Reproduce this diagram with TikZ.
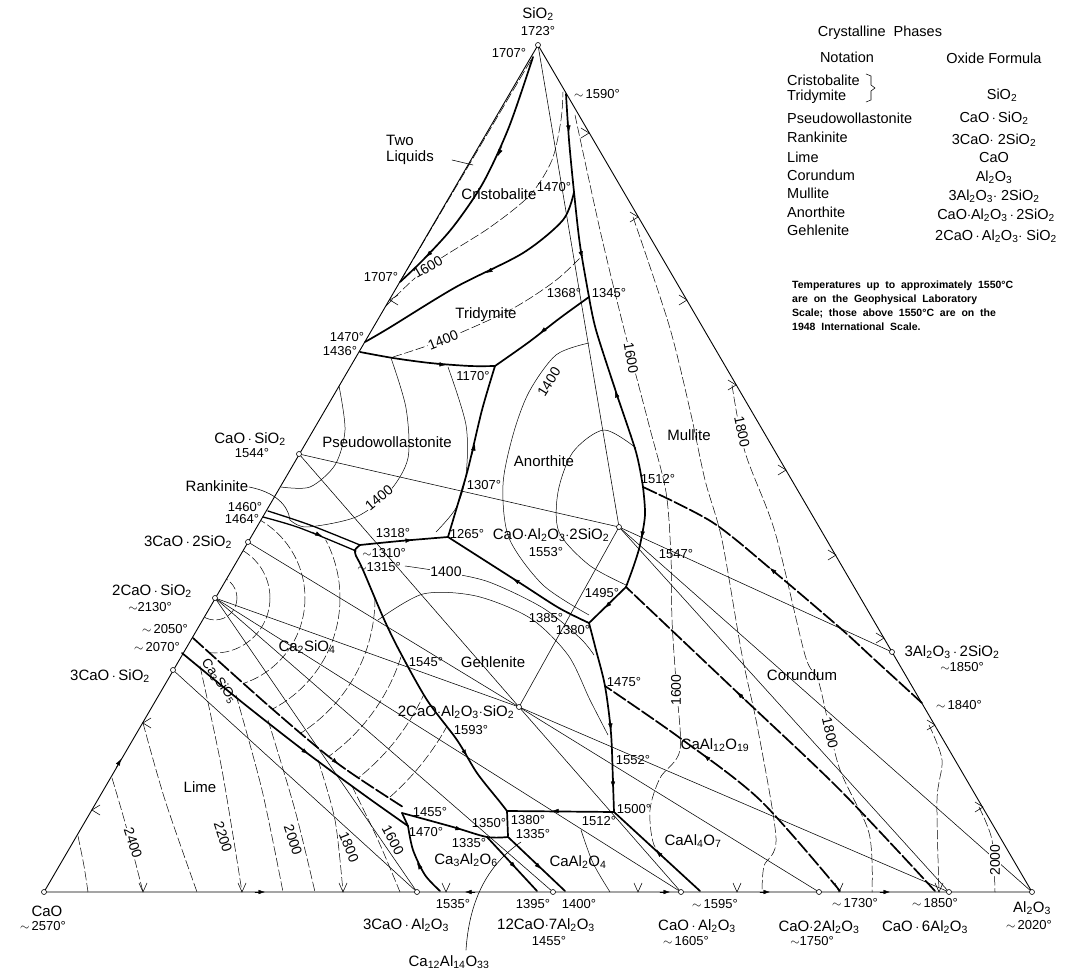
\documentclass[tikz,border=0pt]{standalone}
\usepackage{fontspec}
\setmainfont{Liberation Sans}
\usetikzlibrary{arrows.meta}
\newcommand{\sbs}[1]{\textsubscript{#1}}
\newcommand{\cdt}{\,$\cdot$\,}
\tikzset{
  rim/.style={line width=0.9pt},
  tie/.style={line width=0.55pt},
  bound/.style={line width=1.7pt},
  bounddash/.style={line width=1.7pt, dash pattern=on 14pt off 3pt},
  iso/.style={line width=0.5pt, dash pattern=on 9pt off 3pt},
  isofull/.style={line width=0.5pt},
  cpd/.style={circle, draw, fill=white, line width=0.6pt, inner sep=0pt, minimum size=5pt},
  fld/.style={font=\fontsize{15}{16}\selectfont, inner sep=1pt},
  tmp/.style={font=\fontsize{13}{14}\selectfont, inner sep=1pt},
  isolab/.style={font=\fontsize{14}{14}\selectfont, fill=white, inner sep=0.6pt},
  legend/.style={font=\fontsize{14.5}{15}\selectfont, anchor=west, inner sep=0pt},
  formula/.style={font=\fontsize{14.5}{15}\selectfont, inner sep=0pt},
  tip/.style={-{Latex[length=6.5pt,width=4.5pt]}, line width=0.4pt},
}
\newcommand{\vmark}[1]{\draw[tie] (#1-4,883) -- (#1,892) -- (#1+4,883);}
\newcommand{\rmark}[2]{\draw[tie] (#1-8,#2-5) -- (#1,#2) -- (#1-8,#2+5);}
\newcommand{\lmark}[2]{\draw[tie] (#1+8,#2-5) -- (#1,#2) -- (#1+8,#2+5);}
\newcommand{\arr}[2]{\draw[tip] (#1) -- (#2);}

\begin{document}
\begin{tikzpicture}[x=1pt, y=-1pt, line cap=round, line join=round]
\useasboundingbox (0,0) rectangle (1072,973);

% corners and compounds
\coordinate (S) at (538,45);
\coordinate (C) at (44,892);
\coordinate (A) at (1032,892);
\coordinate (CS) at (299,454);
\coordinate (C3S2) at (248,542);
\coordinate (C2S) at (215,598);
\coordinate (C3S) at (173,670);
\coordinate (C3A) at (417,892);
\coordinate (C12A7) at (553,892);
\coordinate (CA) at (681,892);
\coordinate (CA2) at (819,892);
\coordinate (CA6) at (949,892);
\coordinate (A3S2) at (892,652);
\coordinate (CAS2) at (619,527);
\coordinate (C2AS) at (519,707);

% triangle
\draw[rim] (S) -- (C) -- (A) -- cycle;

% joins
\foreach \p/\q in {S/CAS2, CS/CAS2, CS/C2AS, C3S2/C2AS, C2S/C2AS, C2S/CA, C2S/C12A7, C2S/C3A,
  C3S/C3A, C2AS/CAS2, C2AS/CA, C2AS/CA2, C2AS/CA6, CAS2/CA6, CAS2/A, CAS2/A3S2}
  \draw[tie] (\p) -- (\q);

% isotherms, lime field
\draw[iso] plot[smooth] coordinates {(78,836) (84,866) (88,892)};
\draw[iso] plot[smooth] coordinates {(112,778) (126,826) (143,892)};
\draw[iso] plot[smooth] coordinates {(143,723) (165,800) (197,892)};
\draw[iso] plot[smooth] coordinates {(200,666) (222,770) (242,892)};
\draw[iso] plot[smooth] coordinates {(236,695) (262,790) (283,892)};
\draw[iso] plot[smooth] coordinates {(268,720) (295,810) (315,892)};
\draw[iso] plot[smooth] coordinates {(318,760) (335,820) (343,892)};
\draw[iso] plot[smooth] coordinates {(352,786) (378,840) (400,892)};
\node[isolab, rotate=-72] (l2400) at (133,843) {2400};
\node[isolab, rotate=-72] (l2200) at (223,837) {2200};
\node[isolab, rotate=-72] (l2000) at (293,840) {2000};
\node[isolab, rotate=-68] (l1800a) at (349,847) {1800};
\foreach \x in {143,242,343,446,638,737,839,939} {\vmark{\x}}
\foreach \x/\y in {589/133, 638/217, 687/300, 736/385, 786/470, 836/555, 884/638, 935/725, 983/807} {\rmark{\x}{\y}}
\foreach \x/\y in {143/723, 92/810, 390/300} {\lmark{\x}{\y}}

% isotherms, Ca2SiO4 field
\begin{scope}
\clip (193,638) -- (263,517) -- (356,551) -- (383,617) -- (427,700) -- (457,740) -- (500,802)
  -- (507,811) -- (508,836) -- (487,837) -- (408,820) -- (403,807) -- (337,763) -- (270,707) -- cycle;
\foreach \r in {22,55,90,125,160,195,230,265}
  \draw[iso] (C2S) circle[radius=\r];
\end{scope}
\node[isolab, rotate=-62] (l1600a) at (393,840) {1600};

% isotherms, silica and wollastonite fields
\draw[iso] plot[smooth] coordinates {(386,306) (428,267) (489,228) (530,195) (552,160) (561,120) (563,92)};
\node[isolab, rotate=30] (l1600b) at (428,267) {1600};
\draw[iso] plot[smooth] coordinates {(393,357) (443,340) (510,310) (555,281) (583,255)};
\node[isolab, rotate=22] (l1400a) at (443,340) {1400};
\draw[isofull] plot[smooth] coordinates {(339,386) (345,430) (335,465) (310,487) (281,487)};
\draw[isofull] plot[smooth] coordinates {(391,358) (406,408) (408,458) (389,492) (356,517) (307,527) (290,520)};
\node[isolab, rotate=40] (l1400b) at (379,498) {1400};
\draw[isofull] plot[smooth] coordinates {(448,367) (466,425) (466,475) (456,508) (436,532)};

% isotherms, anorthite field
\draw[isofull] plot[smooth] coordinates {(589,343) (556,355) (529,392) (513,435) (503,485) (509,538) (543,585) (589,615)};
\node[isolab, rotate=58] (l1400c) at (549,382) {1400};
\draw[isofull] plot[smooth] coordinates {(636,448) (604,430) (573,452) (558,492) (559,532) (589,565) (626,585)};

% isotherms, gehlenite field
\draw[isofull] plot[smooth] coordinates {(405,566) (444,572) (489,582) (543,608) (580,638) (594,655)};
\node[isolab] (l1400d) at (446,572) {1400};
\draw[isofull] plot[smooth] coordinates {(378,620) (423,594) (476,596) (530,618) (568,655) (590,700) (608,735)};

% isotherms, mullite, corundum and aluminate fields
\draw[iso] plot[smooth] coordinates {(575,115) (600,230) (623,325) (649,425) (666,492) (671,558) (672,620) (676,683) (680,750) (660,778) (650,810) (654,845) (672,865)};
\node[isolab, rotate=-80] (l1600c) at (631,358) {1600};
\node[isolab, rotate=90] (l1600d) at (676,690) {1600};
\draw[iso] plot[smooth] coordinates {(633,217) (669,325) (690,410) (705,480) (722,540) (742,655) (758,730) (776,838) (764,866) (762,892)};
\draw[iso] plot[smooth] coordinates {(732,385) (745,452) (775,532) (805,655) (819,683) (839,767) (869,833) (872,892)};
\node[isolab, rotate=-78] (l1800b) at (742,432) {1800};
\node[isolab, rotate=-77] (l1800c) at (830,733) {1800};
\draw[iso] plot[smooth] coordinates {(929,725) (942,760) (937,800) (939,892)};
\draw[iso] plot[smooth] coordinates {(979,807) (992,840) (995,892)};
\node[isolab, rotate=90] (l2000b) at (995,860) {2000};
\draw[isofull] plot[smooth] coordinates {(581,830) (593,863) (610,892)};

% two-liquid region
\draw[tie, dash pattern=on 10pt off 3pt] (531,60) -- (401,280);
\draw[bound] plot[smooth] coordinates {(533,57) (509,127) (483,183) (453,227) (423,260) (400,282)};
\arr{502,146}{498,156} \arr{434,249}{426,257}

% boundary curves
\draw[bound] plot[smooth] coordinates {(574,192) (563,220) (523,253) (456,287) (389,328) (365,342)};
\arr{495,268}{486,273}
\draw[bound] plot[smooth] coordinates {(566,94) (569,140) (574,192) (580,245) (589,297)};
\arr{568,122}{569,132} \arr{580,248}{582,258}
\draw[bound] plot[smooth] coordinates {(360,352) (393,358) (430,363) (470,366) (495,366)};
\arr{436,364}{446,365}
\draw[bound] plot[smooth] coordinates {(589,297) (560,318) (529,342) (495,366)};
\arr{548,327}{540,333}
\draw[bound] plot[smooth] coordinates {(448,537) (462,490) (469,465) (482,410) (495,366)};
\arr{472,455}{475,444}
\draw[bound] plot[smooth] coordinates {(643,487) (636,452) (616,392) (596,330) (589,297)};
\arr{619,402}{615,391}
\draw[bound] plot[smooth] coordinates {(643,487) (645,515) (640,545) (634,565) (626,587)};
\arr{643,528}{642,538}
\draw[bound] (626,587) -- (589,623);
\arr{612,601}{605,608}
\draw[bound] plot[smooth] coordinates {(589,623) (559,608) (520,583) (448,537)};
\arr{522,584}{513,579}
\draw[bound] plot[smooth] coordinates {(589,623) (596,650) (605,686) (611,733) (613,783) (614,812)};
\arr{610,720}{611,730} \arr{613,778}{613,788}
\draw[bounddash] plot[smooth] coordinates {(922,703) (875,660) (839,627) (772,570) (712,522) (643,487)};
\arr{778,575}{770,568}
\draw[bounddash] plot[smooth] coordinates {(935,891) (840,790) (740,695) (626,587)};
\arr{745,700}{737,692}
\draw[bounddash] plot[smooth] coordinates {(840,891) (760,800) (680,738) (605,686)};
\arr{712,762}{704,755}
\draw[bound] (700,891) -- (614,812);
\arr{664,858}{656,851}
\draw[bound] (614,812) -- (507,811);
\arr{562,811}{552,811}
\draw[bound] (507,811) -- (508,836);
\draw[bound] plot[smooth] coordinates {(356,556) (363,570) (383,617) (399,650) (427,700) (457,740) (477,773) (500,802) (507,811)};
\arr{462,748}{467,756}
\draw[bound] plot[smooth] coordinates {(402,813) (453,827) (487,837) (508,837)};
\arr{452,827}{462,830}
\draw[bound] (508,837) -- (565,891);
\arr{534,862}{541,869}
\draw[bound] (487,837) -- (537,891);
\arr{509,861}{516,868}
\draw[bound] plot[smooth] coordinates {(408,826) (413,850) (425,875) (440,891)};
\arr{423,872}{417,863}
\draw[bound] (402,813) -- (408,826);
\draw[bounddash] plot[smooth] coordinates {(193,638) (270,707) (337,763) (403,807)};
\arr{330,757}{338,764}
\draw[bound] plot[smooth] coordinates {(182,653) (243,703) (307,753) (367,797) (408,826)};
\arr{300,748}{308,754}
\draw[bound, line width=1.3pt] plot[smooth] coordinates {(263,517) (300,528) (356,551)};
\arr{312,532}{322,536}
\draw[bound, line width=1.3pt] plot[smooth] coordinates {(268,511) (310,525) (360,545)};
\draw[bound] plot[smooth] coordinates {(360,545) (400,541) (448,537)};
\arr{402,541}{412,540}
\draw[bound] plot[smooth] coordinates {(360,545) (355,550) (356,556)};

% arrows on the sides
\arr{116,768}{121,759}
\arr{255,892}{265,892}
\arr{475,892}{465,892}
\arr{660,892}{670,892}
\arr{760,892}{770,892}
\arr{880,892}{890,892}

% leaders
\draw[tie] (452,160) -- (473,165);
\draw[tie] (249,487) .. controls (275,492) and (288,505) .. (290,520);
\draw[tie] (466,950) .. controls (470,890) and (495,860) .. (521,842);

% compound points
\foreach \p in {S,C,A,CS,C3S2,C2S,C3S,C3A,C12A7,CA,CA2,CA6,A3S2,CAS2,C2AS}
  \node[cpd] (m\p) at (\p) {};

% vertex and compound labels
\node[fld] (tS) at (538,14) {SiO\sbs{2}};
\node[tmp] (tS2) at (538,31) {1723°};
\node[fld] (tC) at (47,911) {CaO};
\node[tmp] (tC2) at (43,926) {$\sim$\,2570°};
\node[fld] (tA) at (1032,908) {Al\sbs{2}O\sbs{3}};
\node[tmp] (tA2) at (1029,925) {$\sim$\,2020°};
\node[fld] (tCS) at (250,439) {CaO\cdt SiO\sbs{2}};
\node[tmp] (tCS2) at (252,453) {1544°};
\node[fld] (tC3S2) at (188,542) {3CaO\cdt 2SiO\sbs{2}};
\node[fld] (tC2S) at (152,591) {2CaO\cdt SiO\sbs{2}};
\node[tmp] (tC2S2) at (150,607) {$\sim$2130°};
\node[fld] (tC3S) at (110,676) {3CaO\cdt SiO\sbs{2}};
\node[fld] (tC3A) at (406,925) {3CaO\cdt Al\sbs{2}O\sbs{3}};
\node[fld] (tC12A7) at (546,925) {12CaO$\cdot$7Al\sbs{2}O\sbs{3}};
\node[tmp] (tC12A72) at (549,941) {1455°};
\node[fld] (tCA) at (697,926) {CaO\cdt Al\sbs{2}O\sbs{3}};
\node[tmp] (tCA2) at (686,941) {$\sim$\,1605°};
\node[fld] (tCA2x) at (819,927) {CaO$\cdot$2Al\sbs{2}O\sbs{3}};
\node[tmp] (tCA22) at (812,941) {$\sim$1750°};
\node[fld] (tCA6) at (925,927) {CaO\cdt 6Al\sbs{2}O\sbs{3}};
\node[fld] (tA3S2) at (952,652) {3Al\sbs{2}O\sbs{3}\cdt 2SiO\sbs{2}};
\node[tmp] (tA3S22) at (962,667) {$\sim$1850°};
\node[fld] (tCAS2) at (551,535) {CaO$\cdot$Al\sbs{2}O\sbs{3}$\cdot$2SiO\sbs{2}};
\node[tmp] (tCAS22) at (546,552) {1553°};
\node[fld] (tC2AS) at (456,712) {2CaO$\cdot$Al\sbs{2}O\sbs{3}$\cdot$SiO\sbs{2}};
\node[tmp] (tC2AS2) at (471,730) {1593°};
\node[fld] (tC12) at (449,962) {Ca\sbs{12}Al\sbs{14}O\sbs{33}};

% field labels
\node[fld] (fCr) at (499,194) {Cristobalite};
\node[fld] (fTr) at (486,315) {Tridymite};
\node[fld] (fPw) at (387,442) {Pseudowollastonite};
\node[fld] (fRk) at (217,486) {Rankinite};
\node[fld] (fAn) at (544,461) {Anorthite};
\node[fld] (fMu) at (689,435) {Mullite};
\node[fld] (fGe) at (493,662) {Gehlenite};
\node[fld] (fCo) at (802,675) {Corundum};
\node[fld] (fC2S) at (307,647) {Ca\sbs{2}SiO\sbs{4}};
\node[fld, font=\fontsize{13.5}{14}\selectfont, rotate=-55] (fC3S) at (219,681) {Ca\sbs{3}SiO\sbs{5}};
\node[fld] (fLi) at (200,787) {Lime};
\node[fld] (fC3A) at (466,860) {Ca\sbs{3}Al\sbs{2}O\sbs{6}};
\node[fld] (fCA) at (578,862) {CaAl\sbs{2}O\sbs{4}};
\node[fld] (fCA2) at (693,841) {CaAl\sbs{4}O\sbs{7}};
\node[fld] (fCA6) at (715,745) {CaAl\sbs{12}O\sbs{19}};
\node[fld, align=left] (fTwo) at (410,150) {Two\\Liquids};

% invariant temperatures
\node[tmp] (v1707a) at (509,53) {1707°};
\node[tmp] (v1590) at (597,94) {$\sim$\,1590°};
\node[tmp] (v1470a) at (554,187) {1470°};
\node[tmp] (v1707b) at (381,277) {1707°};
\node[tmp] (v1368) at (564,293) {1368°};
\node[tmp] (v1345) at (609,293) {1345°};
\node[tmp] (v1470b) at (347,337) {1470°};
\node[tmp] (v1436) at (340,351) {1436°};
\node[tmp] (v1170) at (473,376) {1170°};
\node[tmp] (v1460) at (245,507) {1460°};
\node[tmp] (v1464) at (242,519) {1464°};
\node[tmp] (v1307) at (484,485) {1307°};
\node[tmp] (v1512a) at (658,479) {1512°};
\node[tmp] (v1318) at (393,533) {1318°};
\node[tmp] (v1265) at (467,534) {1265°};
\node[tmp] (v1310) at (384,553) {$\sim$1310°};
\node[tmp] (v1315) at (379,567) {$\sim$1315°};
\node[tmp] (v1547) at (676,554) {1547°};
\node[tmp] (v1495) at (602,593) {1495°};
\node[tmp] (v1385) at (546,618) {1385°};
\node[tmp] (v1380a) at (573,630) {1380°};
\node[tmp] (v2050) at (165,629) {$\sim$\,2050°};
\node[tmp] (v2070) at (157,647) {$\sim$\,2070°};
\node[tmp] (v1545) at (426,662) {1545°};
\node[tmp] (v1475) at (624,682) {1475°};
\node[tmp] (v1552) at (633,760) {1552°};
\node[tmp] (v1840) at (959,705) {$\sim$\,1840°};
\node[tmp] (v1455) at (430,812) {1455°};
\node[tmp] (v1470c) at (426,832) {1470°};
\node[tmp] (v1350) at (489,823) {1350°};
\node[tmp] (v1380b) at (528,820) {1380°};
\node[tmp] (v1512b) at (599,821) {1512°};
\node[tmp] (v1500) at (634,809) {1500°};
\node[tmp] (v1335a) at (533,834) {1335°};
\node[tmp] (v1335b) at (469,843) {1335°};
\node[tmp] (v1535) at (453,904) {1535°};
\node[tmp] (v1395) at (533,904) {1395°};
\node[tmp] (v1400) at (579,904) {1400°};
\node[tmp] (v1595) at (715,904) {$\sim$\,1595°};
\node[tmp] (v1730) at (855,903) {$\sim$\,1730°};
\node[tmp] (v1850) at (935,903) {$\sim$\,1850°};

% legend
\node[formula] (hPh) at (880,33) {Crystalline\ \ Phases};
\node[formula] (hNo) at (847,57) {Notation};
\node[formula] (hOx) at (994,58) {Oxide\ Formula};
\node[legend] (n1) at (787,80) {Cristobalite};
\node[legend] (n2) at (787,97) {Tridymite};
\node[legend] (n3) at (787,118) {Pseudowollastonite};
\node[legend] (n4) at (787,137) {Rankinite};
\node[legend] (n5) at (787,157) {Lime};
\node[legend] (n6) at (787,175) {Corundum};
\node[legend] (n7) at (787,193) {Mullite};
\node[legend] (n8) at (787,212) {Anorthite};
\node[legend] (n9) at (787,230) {Gehlenite};
\draw[tie] (866,74) -- (871,76) -- (871,85) -- (875,88) -- (871,91) -- (871,100) -- (866,102);
\node[formula] (o1) at (1002,95) {SiO\sbs{2}};
\node[formula] (o3) at (994,118) {CaO\cdt SiO\sbs{2}};
\node[formula] (o4) at (994,140) {3CaO$\cdot$ 2SiO\sbs{2}};
\node[formula] (o5) at (994,158) {CaO};
\node[formula] (o6) at (994,177) {Al\sbs{2}O\sbs{3}};
\node[formula] (o7) at (994,196) {3Al\sbs{2}O\sbs{3}$\cdot$ 2SiO\sbs{2}};
\node[formula] (o8) at (996,215) {CaO$\cdot$Al\sbs{2}O\sbs{3}\cdt 2SiO\sbs{2}};
\node[formula] (o9) at (996,236) {2CaO\cdt Al\sbs{2}O\sbs{3}$\cdot$ SiO\sbs{2}};
\node[anchor=north west, align=left, inner sep=0pt, font=\bfseries\fontsize{10.5}{14}\selectfont] (note) at (792,281)
  {Temperatures\ \ up\ \ to\ \ approximately\ \ 1550°C\\
   are\ \ on\ \ the\ \ Geophysical\ \ Laboratory\\
   Scale;\ \ those\ \ above\ \ 1550°C\ \ are\ \ on\ \ the\\
   1948\ \ International\ \ Scale.};
\end{tikzpicture}
\end{document}
